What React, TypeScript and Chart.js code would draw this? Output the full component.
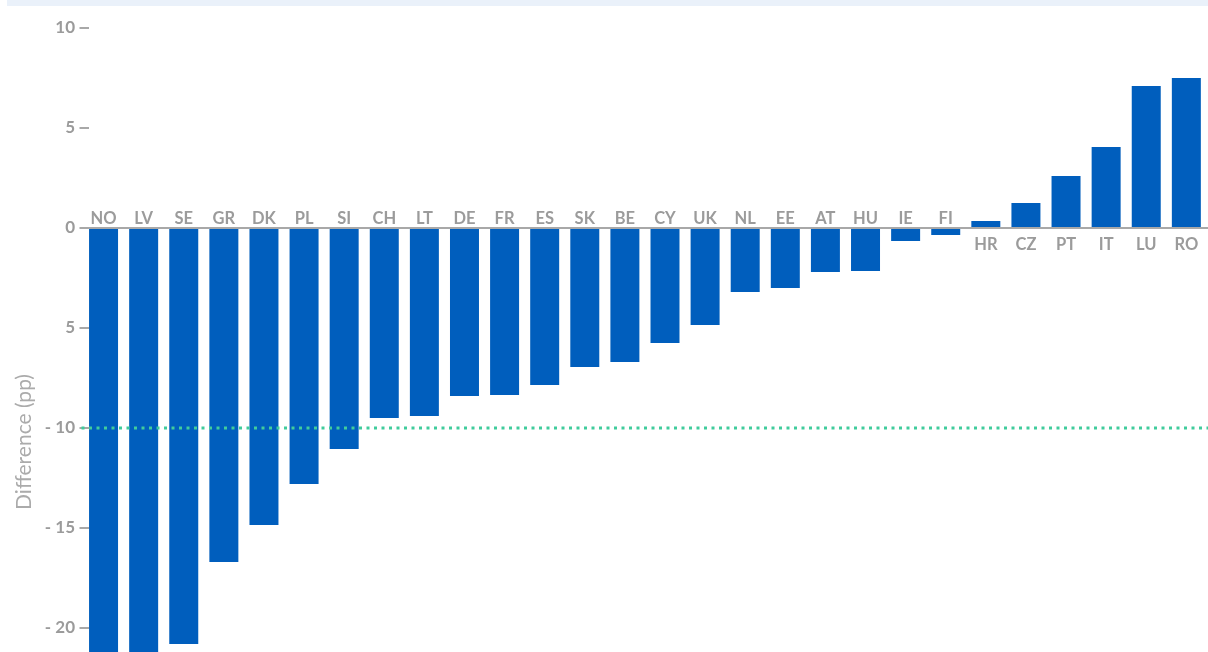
import React, { useEffect, useRef } from "react";
import { Chart, registerables } from "chart.js";

Chart.register(...registerables);

const CATEGORIES = [
  "NO", "LV", "SE", "GR", "DK", "PL", "SI", "CH", "LT", "DE", "FR", "ES", "SK", "BE",
  "CY", "UK", "NL", "EE", "AT", "HU", "IE", "FI", "HR", "CZ", "PT", "IT", "LU", "RO",
];
const VALUES = [
  -23.0, -22.5, -20.8, -16.7, -14.85, -12.8, -11.05, -9.5, -9.4, -8.4, -8.35, -7.85, -6.95, -6.7,
  -5.75, -4.85, -3.2, -3.0, -2.2, -2.15, -0.65, -0.35, 0.35, 1.25, 2.6, 4.05, 7.1, 7.5,
];
const TARGET_LINE = -10;
const Y_TICKS = [10, 5, 0, -5, -10, -15, -20, -25, -30];
const Y_TICK_LABELS = ["10", "5", "0", "5", "- 10", "- 15", "- 20", "- 25", "- 30"];
const Y_MIN = -32.4;
const Y_MAX = 11;
const AXIS_TITLE = "Difference (pp)";

const BAR_COLOR = "#005EBD";
const TEXT_COLOR = "#9B9B9B";
const LINE_GRAY = "#A8A8A8";
const TARGET_COLOR = "#40CC9C";

export default function App() {
  const ref = useRef<HTMLCanvasElement>(null);

  useEffect(() => {
    if (!ref.current) return;
    const overlay = {
      id: "overlay",
      afterDatasetsDraw(chart: any) {
        const ctx = chart.ctx;
        const { left } = chart.chartArea;
        const y = chart.scales.y;
        const x = chart.scales.x;
        const zero = y.getPixelForValue(0);
        ctx.save();
        ctx.strokeStyle = LINE_GRAY;
        ctx.lineWidth = 2;
        y.ticks.forEach((t: any) => {
          if (t.value === 0) return;
          const py = Math.round(y.getPixelForValue(t.value));
          ctx.beginPath();
          ctx.moveTo(left - 4, py);
          ctx.lineTo(left + 5.5, py);
          ctx.stroke();
        });
        ctx.beginPath();
        ctx.moveTo(left - 4, Math.round(zero));
        ctx.lineTo(chart.width, Math.round(zero));
        ctx.stroke();

        const ty = Math.round(y.getPixelForValue(TARGET_LINE));
        ctx.strokeStyle = TARGET_COLOR;
        ctx.lineWidth = 3;
        ctx.setLineDash([3, 4.5]);
        ctx.beginPath();
        ctx.moveTo(left - 2, ty);
        ctx.lineTo(chart.width, ty);
        ctx.stroke();
        ctx.setLineDash([]);

        ctx.font = "bold 16.5px Lato";
        ctx.fillStyle = TEXT_COLOR;
        ctx.textAlign = "center";
        ctx.textBaseline = "alphabetic";
        CATEGORIES.forEach((c, i) => {
          const px = x.getPixelForValue(i);
          const v = VALUES[i];
          ctx.fillText(c, px, v < 0 ? zero - 4.5 : zero + 22);
        });
        ctx.restore();
      },
    };

    const chart = new Chart(ref.current, {
      type: "bar",
      data: {
        labels: CATEGORIES,
        datasets: [
          {
            data: VALUES,
            backgroundColor: BAR_COLOR,
            borderWidth: 0,
            barPercentage: 0.723,
            categoryPercentage: 1,
          },
        ],
      },
      options: {
        animation: false,
        responsive: true,
        maintainAspectRatio: false,
        layout: { padding: { top: 28, bottom: 20, left: 0, right: 1.6 } },
        plugins: { legend: { display: false }, tooltip: { enabled: false } },
        scales: {
          x: { display: false },
          y: {
            min: Y_MIN,
            max: Y_MAX,
            grid: { display: false, drawTicks: false },
            border: { display: false },
            afterBuildTicks: (s: any) => {
              s.ticks = Y_TICKS.map((v) => ({ value: v }));
            },
            afterFit: (s: any) => {
              s.width = 83.5;
            },
            ticks: {
              padding: 8.5,
              color: TEXT_COLOR,
              font: { family: "Lato", size: 17, weight: "bold" },
              callback: (v: any) => {
                const i = Y_TICKS.indexOf(Number(v));
                return i >= 0 ? Y_TICK_LABELS[i] : "";
              },
            },
            title: {
              display: true,
              text: AXIS_TITLE,
              color: "#ABABAB",
              font: { family: "Lato", size: 21 },
              padding: { top: 11.5, bottom: 0 },
            },
          },
        },
      },
      plugins: [overlay],
    });
    return () => chart.destroy();
  }, []);

  return (
    <div
      style={{
        position: "absolute",
        left: 0,
        top: 0,
        width: 1208,
        height: 652,
        overflow: "hidden",
        background: "#fff",
      }}
    >
      <div
        style={{
          position: "absolute",
          left: 7,
          top: 0,
          right: 0,
          height: 6,
          background: "#EAF1FA",
          zIndex: 1,
        }}
      />
      <div style={{ position: "absolute", left: 0, top: -20, width: 1208, height: 916 }}>
        <canvas ref={ref} />
      </div>
    </div>
  );
}
